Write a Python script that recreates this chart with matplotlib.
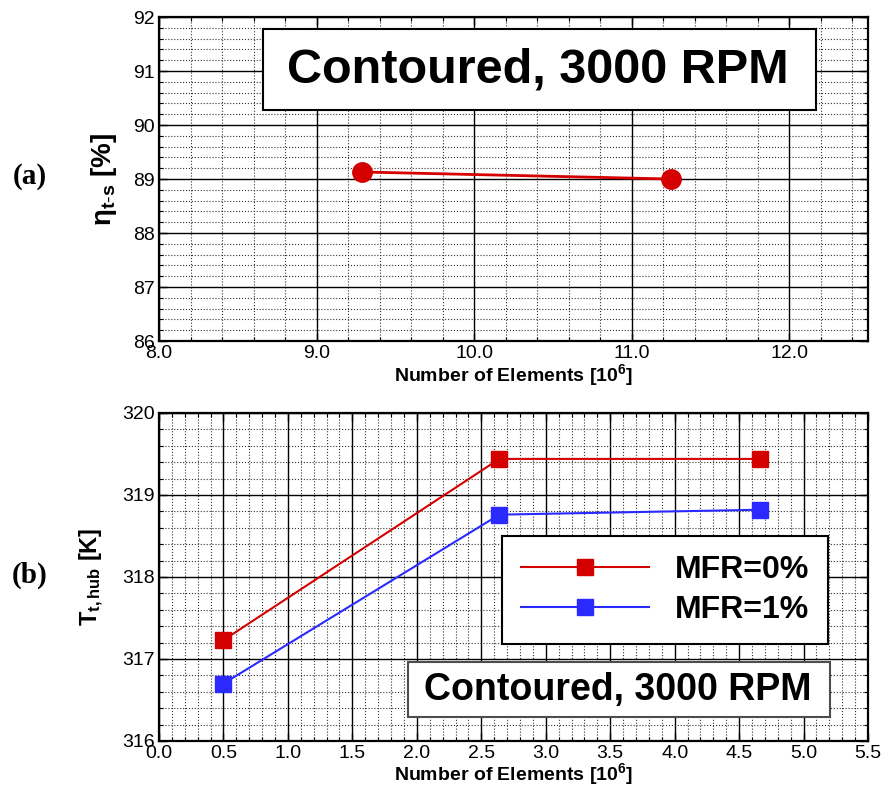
import matplotlib
matplotlib.use("Agg")
import matplotlib.pyplot as plt
from matplotlib.patches import Rectangle
from matplotlib.ticker import MultipleLocator, FormatStrFormatter

plt.rcParams['font.family'] = ['Liberation Sans', 'DejaVu Sans']
plt.rcParams['mathtext.fontset'] = 'custom'
plt.rcParams['mathtext.rm'] = 'Liberation Sans'
plt.rcParams['mathtext.bf'] = 'Liberation Sans:bold'
plt.rcParams['mathtext.it'] = 'Liberation Sans:italic'
plt.rcParams['mathtext.default'] = 'regular'

# (a) efficiency vs mesh size
elems_a = [9.29, 11.25]
eta_ts = [89.13, 89.00]

# (b) hub total temperature vs mesh size
elems_b = [0.5, 2.64, 4.66]
tt_mfr0 = [317.23, 319.44, 319.44]
tt_mfr1 = [316.70, 318.76, 318.82]

red = '#d40000'
blue = '#2a2aff'

fig = plt.figure(figsize=(8.84, 7.85), dpi=100)
ax1 = fig.add_axes([0.1799, 0.5656, 0.802, 0.4127])
ax2 = fig.add_axes([0.1799, 0.0561, 0.802, 0.4178])


def style_grid(ax):
    ax.grid(which='major', color='black', lw=1.0, ls='-')
    ax.grid(which='minor', color='0.2', lw=0.8, ls=':')
    ax.set_axisbelow(True)
    ax.tick_params(which='both', direction='in', top=True, right=True)
    ax.tick_params(which='major', length=6, width=1, labelsize=14, pad=3)
    ax.tick_params(which='minor', length=3, width=0.8)
    for s in ax.spines.values():
        s.set_linewidth(1.6)


# ---- top panel
ax1.plot(elems_a, eta_ts, color=red, lw=2, marker='o', ms=14, zorder=5)
ax1.set_xlim(8.0, 12.5)
ax1.set_ylim(86, 92)
ax1.xaxis.set_major_locator(MultipleLocator(1.0))
ax1.xaxis.set_minor_locator(MultipleLocator(0.2))
ax1.yaxis.set_major_locator(MultipleLocator(1))
ax1.yaxis.set_minor_locator(MultipleLocator(0.2))
ax1.xaxis.set_major_formatter(FormatStrFormatter('%.1f'))
style_grid(ax1)
ax1.set_xlabel(r'Number of Elements [10$^{6}$]', fontsize=14, fontweight='bold', labelpad=0)
ax1.set_ylabel(r'$\eta_{\mathbf{t\text{-}s}}$ [%]', fontsize=20, fontweight='bold', labelpad=10)
ax1.add_patch(Rectangle((0.1467, 0.713), 0.780, 0.25, transform=ax1.transAxes,
                        facecolor='white', edgecolor='black', lw=1.5, zorder=6))
ax1.text(0.534, 0.838, 'Contoured, 3000 RPM', transform=ax1.transAxes,
         fontsize=35, fontweight='bold', ha='center', va='center', zorder=7)

# ---- bottom panel
ax2.plot(elems_b, tt_mfr0, color=red, lw=1.5, marker='s', ms=11, label='MFR=0%', zorder=5)
ax2.plot(elems_b, tt_mfr1, color=blue, lw=1.5, marker='s', ms=11, label='MFR=1%', zorder=5)
ax2.set_xlim(0.0, 5.5)
ax2.set_ylim(316, 320)
ax2.xaxis.set_major_locator(MultipleLocator(0.5))
ax2.xaxis.set_minor_locator(MultipleLocator(0.1))
ax2.yaxis.set_major_locator(MultipleLocator(1))
ax2.yaxis.set_minor_locator(MultipleLocator(0.2))
ax2.xaxis.set_major_formatter(FormatStrFormatter('%.1f'))
style_grid(ax2)
ax2.set_xlabel(r'Number of Elements [10$^{6}$]', fontsize=14, fontweight='bold', labelpad=-1)
ax2.set_ylabel(r'$\mathbf{T_{t,hub}}$ [K]', fontsize=17, fontweight='bold', labelpad=12)

leg = ax2.legend(loc='upper right', bbox_to_anchor=(0.9436, 0.625), borderaxespad=0,
                 handlelength=4.0, handletextpad=0.8, labelspacing=0.3,
                 borderpad=0.6, fancybox=False, framealpha=1, edgecolor='black',
                 prop={'weight': 'bold', 'size': 23})
leg.get_frame().set_linewidth(1.5)
leg.set_zorder(8)

ax2.add_patch(Rectangle((0.351, 0.073), 0.595, 0.168, transform=ax2.transAxes,
                        facecolor='white', edgecolor='0.3', lw=1.5, zorder=6))
ax2.text(0.647, 0.155, 'Contoured, 3000 RPM', transform=ax2.transAxes,
         fontsize=27, fontweight='bold', ha='center', va='center', zorder=7)

fig.text(0.034, 1 - 177 / 785, '(a)', fontsize=21, fontweight='bold',
         family='Liberation Serif', ha='center', va='center')
fig.text(0.034, 1 - 575 / 785, '(b)', fontsize=21, fontweight='bold',
         family='Liberation Serif', ha='center', va='center')

fig.savefig('out.png', dpi=100)
